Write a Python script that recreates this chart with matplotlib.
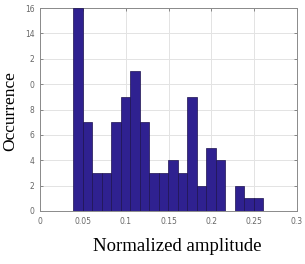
import numpy as np
import matplotlib.pyplot as plt

# histogram bins (left edge of first bin, bin width) and counts
bin_start = 0.0389
bin_width = 0.01109
counts = [16, 7, 3, 3, 7, 9, 11, 7, 3, 3, 4, 3, 9, 2, 5, 4, 0, 2, 1, 1]

xticks = [0, 0.05, 0.1, 0.15, 0.2, 0.25, 0.3]
xtick_labels = ['0', '0.05', '0.1', '0.15', '0.2', '0.25', '0.3']
yticks = [0, 2, 4, 6, 8, 10, 12, 14, 16]
ytick_labels = ['0', '2', '4', '6', '8', '0', '2', '14', '16']

edges = bin_start + bin_width * np.arange(len(counts) + 1)

fig = plt.figure(figsize=(3.05, 2.64), dpi=100)
ax = fig.add_axes([40 / 305, 1 - 211 / 264, 257 / 305, 203 / 264])

ax.bar(edges[:-1], counts, width=bin_width, align='edge',
       color='#2f2190', edgecolor='#1c124f', linewidth=0.5, zorder=3)

ax.set_xlim(0, 0.3)
ax.set_ylim(0, 16)
ax.set_xticks(xticks)
ax.set_xticklabels(xtick_labels)
ax.set_yticks(yticks)
ax.set_yticklabels(ytick_labels)

ax.grid(True, color='#e3e3e3', linewidth=0.7, zorder=0)
ax.tick_params(direction='in', top=True, right=True, length=2.5,
               width=0.6, color='#777777', labelcolor='#666666',
               labelsize=5.5, pad=4)
for s in ax.spines.values():
    s.set_color('#8a8a8a')
    s.set_linewidth(0.7)

ax.set_xlabel('Normalized amplitude', family='Liberation Serif',
              fontsize=13.5)
ax.xaxis.set_label_coords(0.535, -0.135)
ax.set_ylabel('Occurrence', family='Liberation Serif', fontsize=12.5)
ax.yaxis.set_label_coords(-0.083, 0.49)

fig.savefig('out.png', dpi=100)
